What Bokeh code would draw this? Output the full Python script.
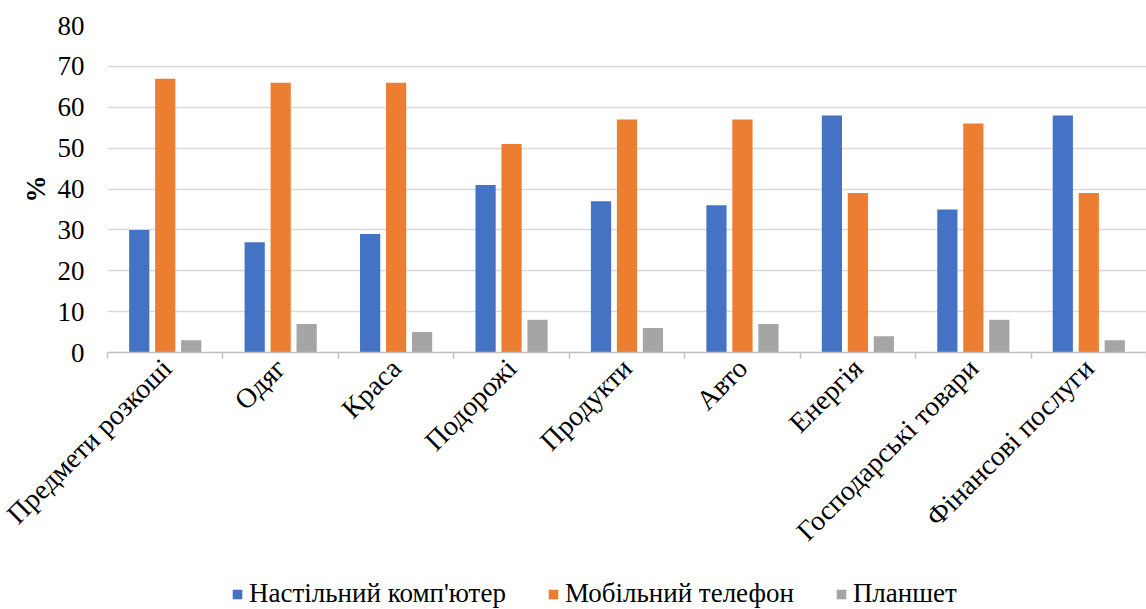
from math import pi

from bokeh.embed import file_html
from bokeh.layouts import column
from bokeh.models import ColumnDataSource, FixedTicker, Legend, LegendItem, Range1d
from bokeh.plotting import figure
from bokeh.resources import INLINE
from bokeh.transform import dodge

categories = [
    "Предмети розкоші",
    "Одяг",
    "Краса",
    "Подорожі",
    "Продукти",
    "Авто",
    "Енергія",
    "Господарські товари",
    "Фінансові послуги",
]
desktop = [30, 27, 29, 41, 37, 36, 58, 35, 58]
mobile = [67, 66, 66, 51, 57, 57, 39, 56, 39]
tablet = [3, 7, 5, 8, 6, 7, 4, 8, 3]
series_names = ["Настільний комп'ютер", "Мобільний телефон", "Планшет"]
y_ticks = [0, 10, 20, 30, 40, 50, 60, 70, 80]

colors = ["#4472C4", "#ED7D31", "#A5A5A5"]
FONT = "Liberation Serif"

centers = [i + 0.5 for i in range(len(categories))]
bounds = list(range(len(categories) + 1))

src = ColumnDataSource(dict(x=centers, desktop=desktop, mobile=mobile, tablet=tablet))

# main chart
p = figure(
    width=1146,
    height=579,
    x_range=Range1d(0, len(categories)),
    y_range=Range1d(0, 80),
    output_backend="svg",
    toolbar_location=None,
    min_border_left=107,
    min_border_right=0,
    min_border_top=25,
    min_border_bottom=227,
)
p.outline_line_color = None
p.background_fill_color = "white"
p.border_fill_color = "white"

bar_w = 0.175
offset = 0.225
fields = ["desktop", "mobile", "tablet"]
for field, off, col in zip(fields, [-offset, 0, offset], colors):
    p.vbar(x=dodge("x", off, range=p.x_range), top=field, width=bar_w, bottom=0,
           source=src, fill_color=col, line_color=None)

p.xgrid.grid_line_color = None
p.ygrid.grid_line_color = "#d9d9d9"
p.ygrid.grid_line_width = 1.5

# y axis
p.yaxis.ticker = FixedTicker(ticks=y_ticks)
p.yaxis.axis_line_color = None
p.yaxis.major_tick_line_color = None
p.yaxis.major_tick_out = 0
p.yaxis.major_tick_in = 0
p.yaxis.minor_tick_line_color = None
p.yaxis.minor_tick_out = 0
p.yaxis.major_label_text_font = FONT
p.yaxis.major_label_text_font_size = "27px"
p.yaxis.major_label_text_color = "#000000"
p.yaxis.major_label_standoff = 23
p.yaxis.axis_label = "%"
p.yaxis.axis_label_text_font = FONT
p.yaxis.axis_label_text_font_size = "27px"
p.yaxis.axis_label_text_font_style = "bold"
p.yaxis.axis_label_text_color = "#000000"
p.yaxis.axis_label_standoff = 4

# x axis: labels at category centres, tick marks at category boundaries
p.xaxis.ticker = FixedTicker(ticks=centers, minor_ticks=bounds)
p.xaxis.major_label_overrides = {c: name for c, name in zip(centers, categories)}
p.xaxis.major_tick_line_color = None
p.xaxis.major_tick_out = 0
p.xaxis.major_tick_in = 0
p.xaxis.minor_tick_line_color = "#bfbfbf"
p.xaxis.minor_tick_line_width = 1.5
p.xaxis.minor_tick_out = 6
p.xaxis.minor_tick_in = 0
p.xaxis.axis_line_color = "#bfbfbf"
p.xaxis.axis_line_width = 1.5
p.xaxis.major_label_orientation = pi / 4
p.xaxis.major_label_text_font = FONT
p.xaxis.major_label_text_font_size = "28px"
p.xaxis.major_label_text_color = "#000000"
p.xaxis.major_label_standoff = 5

# legend strip underneath the chart; zero-size bars only carry the swatch colours
lg = figure(
    width=1146,
    height=30,
    x_range=Range1d(0, 1),
    y_range=Range1d(0, 1),
    output_backend="svg",
    toolbar_location=None,
    x_axis_location=None,
    y_axis_location=None,
    min_border=0,
)
lg.outline_line_color = None
lg.xgrid.grid_line_color = None
lg.ygrid.grid_line_color = None
swatches = [
    lg.vbar(x=[0.5], top=[0], bottom=[0], width=0, fill_color=col, line_color=None)
    for col in colors
]

legend = Legend(
    items=[LegendItem(label=n, renderers=[r]) for n, r in zip(series_names, swatches)],
    orientation="horizontal",
    location=(124, 0),
    label_text_font=FONT,
    label_text_font_size="27px",
    label_text_color="#000000",
    label_height=26,
    glyph_width=12,
    glyph_height=12,
    label_standoff=6,
    spacing=41,
    border_line_color=None,
    background_fill_alpha=0,
    padding=0,
    margin=0,
)
lg.add_layout(legend, "center")

layout = column(p, lg, spacing=0)

open("out.html", "w").write(file_html(layout, INLINE))
